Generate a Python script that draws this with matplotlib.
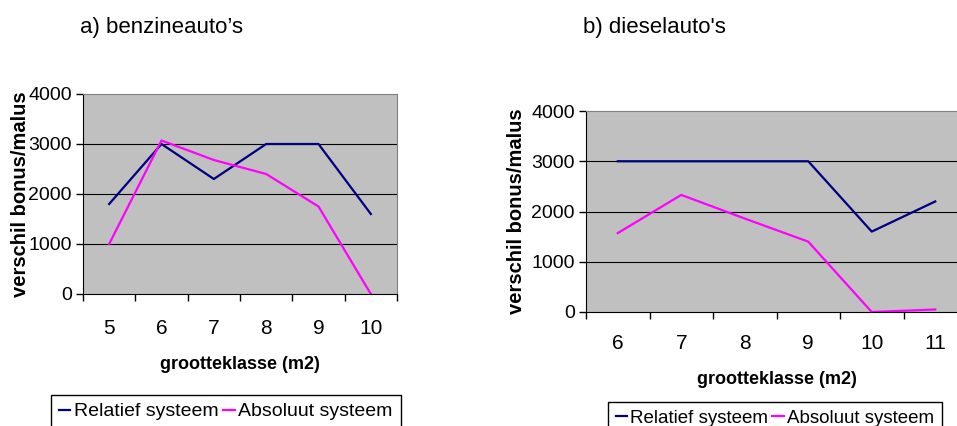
import matplotlib.pyplot as plt

# ==========================================
# DATA
# ==========================================
benzine_klassen = ["5", "6", "7", "8", "9", "10"]
benzine_relatief = [1800, 3000, 2300, 3000, 3000, 1600]
benzine_absoluut = [1000, 3070, 2680, 2400, 1750, 0]

diesel_klassen = ["6", "7", "8", "9", "10", "11"]
diesel_relatief = [3000, 3000, 3000, 3000, 1600, 2200]
diesel_absoluut = [1570, 2330, 1860, 1400, 0, 50]

y_ticks = [0, 1000, 2000, 3000, 4000]

plt.rcParams["font.family"] = ["Liberation Sans", "DejaVu Sans"]

W, H = 957, 426
fig = plt.figure(figsize=(W / 100, H / 100), dpi=100)


def px_axes(x0, y0, x1, y1):
    return fig.add_axes([x0 / W, 1 - y1 / H, (x1 - x0) / W, (y1 - y0) / H])


def draw_panel(ax, klassen, relatief, absoluut, label_pad, xlabel_pad, ylabel_pad):
    xs = list(range(len(klassen)))
    ax.set_facecolor("#c0c0c0")
    l1, = ax.plot(xs, relatief, color="#000080", lw=1.6, label="Relatief systeem")
    l2, = ax.plot(xs, absoluut, color="#ff00ff", lw=1.6, label="Absoluut systeem")

    ax.set_xlim(-0.5, len(klassen) - 0.5)
    ax.set_ylim(0, 4000)
    ax.set_yticks(y_ticks)
    ax.set_yticklabels([str(v) for v in y_ticks], fontsize=14)
    for v in y_ticks[1:-1]:
        ax.axhline(v, color="black", lw=0.8, zorder=1)

    # ticks between categories, labels at centres
    ax.set_xticks([i - 0.5 for i in range(len(klassen) + 1)])
    ax.set_xticklabels([])
    ax.set_xticks(xs, minor=True)
    ax.set_xticklabels(klassen, minor=True, fontsize=15)
    ax.tick_params(axis="x", which="major", direction="out", length=5, width=1)
    ax.tick_params(axis="x", which="minor", length=0, pad=label_pad)
    ax.tick_params(axis="y", direction="out", length=5, width=1, pad=3)

    for side in ["top", "right"]:
        ax.spines[side].set_color("#808080")
    for side in ["left", "bottom"]:
        ax.spines[side].set_color("black")

    ax.set_xlabel("grootteklasse (m2)", fontsize=13, fontweight="bold",
                  labelpad=xlabel_pad)
    ax.set_ylabel("verschil bonus/malus", fontsize=14.5, fontweight="bold",
                  labelpad=ylabel_pad)
    return l1, l2


def add_legend(handles, x, y, size):
    fig.legend(handles, [l.get_label() for l in handles], loc="upper left",
               bbox_to_anchor=(x / W, 1 - y / H), borderaxespad=0, ncol=2,
               fancybox=False, framealpha=1, edgecolor="black",
               prop={"size": size}, handlelength=0.6,
               handletextpad=0.2, columnspacing=0.2, borderpad=0.4)


# ==========================================
# PANEL A - BENZINE
# ==========================================
ax1 = px_axes(83, 94, 397, 294)
h = draw_panel(ax1, benzine_klassen, benzine_relatief, benzine_absoluut, 18, 13, -1)
fig.text(80 / W, 1 - 28 / H, "a) benzineauto’s", fontsize=16, va="center")
add_legend(h, 51, 395, 14)

# ==========================================
# PANEL B - DIESEL
# ==========================================
ax2 = px_axes(586, 111, 967, 312)
h = draw_panel(ax2, diesel_klassen, diesel_relatief, diesel_absoluut, 16, 13, 4)
fig.text(583 / W, 1 - 28 / H, "b) dieselauto's", fontsize=16, va="center")
add_legend(h, 608, 402, 13.5)

fig.savefig("out.png", dpi=100)
